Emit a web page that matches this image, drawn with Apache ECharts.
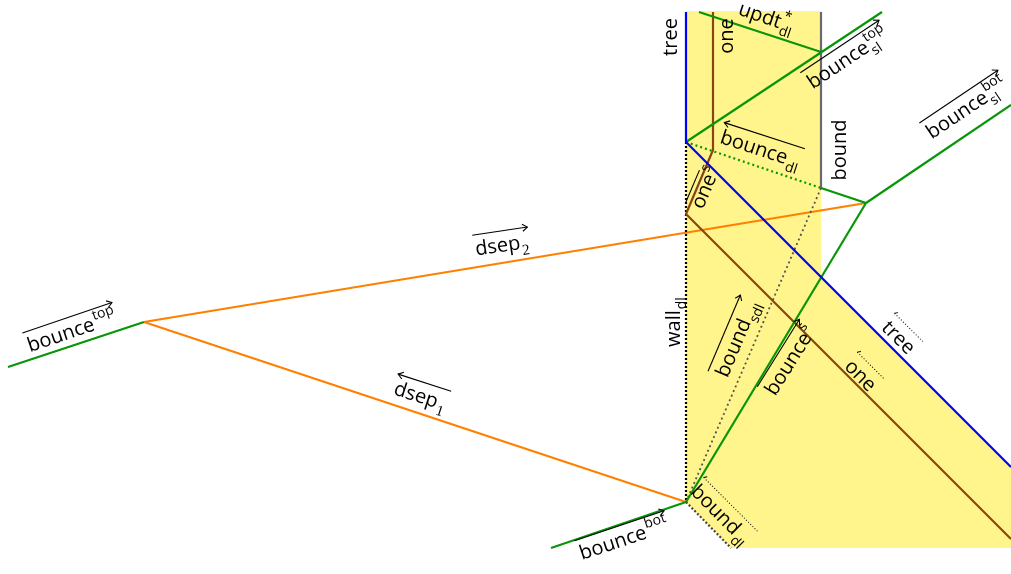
<!DOCTYPE html>
<html><head><meta charset="utf-8">
<script src="https://cdn.jsdelivr.net/npm/echarts@6/dist/echarts.min.js"></script>
<style>html,body{margin:0;padding:0;background:#fff}#c{width:1011px;height:574px}</style>
</head><body><div id="c"></div><script>
// ---- diagram data (diagram units: x right, y down) ----
const yellowRegion = [[686,11],[821,11],[821,277],[1011,467],[1011,548],[731,548],[686,502]];
const treePath     = [[686,12],[686,142],[1011,467]];
const onePath      = [[713,12],[713,150],[686,214],[1011,539]];
const boundPath    = [[821,12],[821,188]];
const boundSdlPath = [[821,188],[686,502]];
const wallDlPath   = [[686,142],[686,502]];
const boundDlPath  = [[686,502],[731,548]];
const updtPath     = [[699,12],[821,52]];
const bounceSlTop  = [[686,142],[882,12]];
const bounceDlPath = [[686,142],[821,188]];
const bounceLink   = [[821,188],[866,203]];
const bounceSlBot  = [[866,203],[1011,105]];
const bounceSPath  = [[866,203],[686,502]];
const bounceBot    = [[551,548],[686,502]];
const bounceTop    = [[8,367],[144,322]];
const dsep2Path    = [[144,322],[866,203]];
const dsep1Path    = [[144,322],[686,502]];

const labels = [
 {main:'tree', at:[671,37], rot:90},
 {main:'one', at:[727,36], rot:90},
 {main:'updt', sub:'dl', sup:'*', at:[766,18], rot:-18.6},
 {main:'bounce', sub:'sl', sup:'top', at:[848,59], rot:33.7, over:'end'},
 {main:'bounce', sub:'dl', at:[760,150], rot:-18, over:'start'},
 {main:'bound', at:[840,150], rot:90},
 {main:'bounce', sub:'sl', sup:'bot', at:[967,109], rot:33.9, over:'end'},
 {main:'one', sup:'s', at:[706,188], rot:67, over:'bar'},
 {main:'dsep', sub:'2', serif:true, at:[502,246], rot:8.5, over:'end'},
 {main:'dsep', sub:'1', serif:true, at:[420,397], rot:-18, over:'start'},
 {main:'bounce', sup:'top', at:[72,332], rot:18.8, over:'end'},
 {main:'wall', sub:'dl', at:[674,322], rot:90},
 {main:'bound', sub:'sdl', at:[738,339], rot:67, over:'end'},
 {main:'bounce', sup:'s', at:[791,361], rot:58, over:'end'},
 {main:'tree', at:[898,338], rot:-45, over:'dot'},
 {main:'one', at:[860,376], rot:-45, over:'dot'},
 {main:'bound', sub:'dl', at:[720,515], rot:-45, over:'dot'},
 {main:'bounce', sup:'bot', at:[624,540], rot:18.5, over:'end'}
];

// ---- styles ----
const BLUE='#0000ff', BROWN='#8a4514', GREEN='#079607', ORANGE='#ff8000', GREY='#6a6a6a';
const lineDefs = [
 [dsep2Path, ORANGE, 2.2, 'solid'],
 [dsep1Path, ORANGE, 2.2, 'solid'],
 [boundPath, GREY, 2.2, 'solid'],
 [boundSdlPath, '#555555', 1.8, [2,3]],
 [wallDlPath, '#000000', 2.2, [2,2]],
 [boundDlPath, '#444444', 2.2, [2,2]],
 [onePath, BROWN, 2.2, 'solid'],
 [updtPath, GREEN, 2.2, 'solid'],
 [bounceSlTop, GREEN, 2.2, 'solid'],
 [bounceDlPath, GREEN, 2.2, [2,3]],
 [bounceLink, GREEN, 2.2, 'solid'],
 [bounceSlBot, GREEN, 2.2, 'solid'],
 [bounceSPath, GREEN, 2.2, 'solid'],
 [bounceBot, GREEN, 2.2, 'solid'],
 [bounceTop, GREEN, 2.2, 'solid'],
 [treePath, BLUE, 2.2, 'solid']
];

const MAIN_FONT = '20px "Open Sans"';
const SUB_FONT = '14px "Open Sans"';
const DIGIT_FONT = '15px "Liberation Serif"';
const ctx = document.createElement('canvas').getContext('2d');
function measure(t, f){ ctx.font = f; return ctx.measureText(t).width; }

function labelItem(params, api){
  const L = labels[params.dataIndex];
  const c = api.coord(L.at);
  const sf = L.serif ? DIGIT_FONT : SUB_FONT;
  const mw = measure(L.main, MAIN_FONT);
  const sw = L.sub ? measure(L.sub, sf) : 0;
  const pw = L.sup ? measure(L.sup, SUB_FONT) : 0;
  const extra = Math.max(sw, pw);
  const W = mw + (extra ? extra + 1 : 0);
  const x0 = -W/2;
  const ch = [];
  ch.push({type:'text', x:x0, y:0, style:{text:L.main, font:MAIN_FONT, fill:'#000', align:'left', verticalAlign:'middle'}});
  if (L.sub) ch.push({type:'text', x:x0+mw+1, y:8, style:{text:L.sub, font:sf, fill:'#000', align:'left', verticalAlign:'middle'}});
  if (L.sup) ch.push({type:'text', x:x0+mw+1, y:-8, style:{text:L.sup, font:SUB_FONT, fill:'#000', align:'left', verticalAlign:'middle'}});
  const ay = -15;
  const ls = {stroke:'#000', lineWidth:1.1};
  if (L.over === 'end' || L.over === 'start') {
    const xa = x0 - 1, xb = x0 + W + 1;
    ch.push({type:'line', shape:{x1:xa, y1:ay, x2:xb, y2:ay}, style:ls});
    const tip = L.over === 'end' ? xb : xa;
    const d = L.over === 'end' ? -5 : 5;
    ch.push({type:'polyline', shape:{points:[[tip+d, ay-3.5],[tip, ay],[tip+d, ay+3.5]]}, style:{stroke:'#000', lineWidth:1.1, fill:null}});
  } else if (L.over === 'bar') {
    ch.push({type:'line', shape:{x1:x0, y1:ay+2, x2:x0+mw, y2:ay+2}, style:ls});
  } else if (L.over === 'dot') {
    const xa = x0 - 1, xb = x0 + W + 1;
    ch.push({type:'line', shape:{x1:xa, y1:ay, x2:xb, y2:ay}, style:{stroke:'#000', lineWidth:1, lineDash:[1,2]}});
    ch.push({type:'line', shape:{x1:xa, y1:ay, x2:xa+2, y2:ay-3}, style:{stroke:'#000', lineWidth:1}});
  }
  return {type:'group', x:c[0], y:c[1], rotation:L.rot*Math.PI/180, children:ch};
}

const series = [];
series.push({
  type:'custom', coordinateSystem:'cartesian2d', silent:true, z:1, clip:false,
  data:[yellowRegion[0]], encode:{x:0, y:1},
  renderItem:function(params, api){
    return {type:'polygon', shape:{points:yellowRegion.map(p => api.coord(p))}, style:{fill:'#fff58c', stroke:null}};
  }
});
lineDefs.forEach(function(d, i){
  series.push({type:'line', data:d[0], symbol:'none', showSymbol:false, silent:true, z:2+i, clip:false,
    lineStyle:{color:d[1], width:d[2], type:d[3], cap:'butt'}, animation:false});
});
series.push({
  type:'custom', coordinateSystem:'cartesian2d', silent:true, z:40, clip:false,
  data:labels.map(l => l.at), encode:{x:0, y:1},
  renderItem:labelItem
});

const chart = echarts.init(document.getElementById('c'), null, {renderer:'canvas'});
chart.setOption({
  animation:false,
  backgroundColor:'#ffffff',
  grid:{left:0, right:0, top:0, bottom:0, containLabel:false},
  xAxis:{type:'value', min:0, max:1011, show:false},
  yAxis:{type:'value', min:0, max:574, inverse:true, show:false},
  series:series
});
</script></body></html>
